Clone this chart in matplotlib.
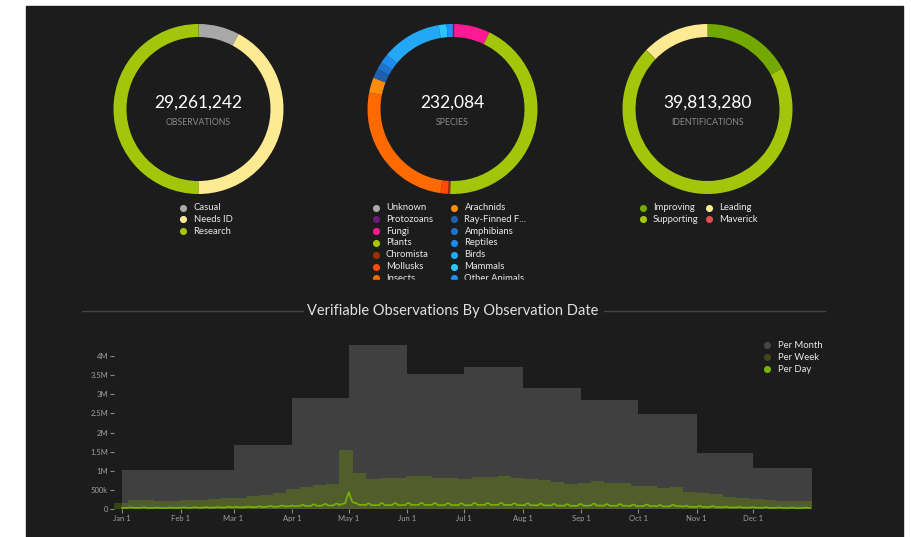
import matplotlib
matplotlib.use("Agg")
import matplotlib.pyplot as plt
from matplotlib.patches import Rectangle

plt.rcParams['font.family'] = ['Lato', 'DejaVu Sans']

# donut data
obs_labels = ['Casual', 'Needs ID', 'Research']
obs_values = [2290000, 12350000, 14621242]
obs_colors = ['#a8a8a8', '#fdea93', '#a4c60a']

species_labels = ['Unknown', 'Protozoans', 'Fungi', 'Plants', 'Chromista', 'Mollusks', 'Insects',
                  'Arachnids', 'Ray-Finned F...', 'Amphibians', 'Reptiles', 'Birds', 'Mammals', 'Other Animals']
species_values = [200, 600, 15800, 100500, 900, 3300, 60000, 6700, 4200, 3200, 4100, 26500, 3500, 2584]
species_colors = ['#a8a8a8', '#6a1b7a', '#ff1a93', '#a4c60a', '#9a3300', '#ff4a0a', '#ff6a00',
                  '#ff8c0a', '#1e5fae', '#1e74cc', '#1e8af0', '#22a8f5', '#2ac6ff', '#1e90ff']

ident_labels = ['Improving', 'Supporting', 'Maverick', 'Leading']
ident_values = [6800000, 27900000, 13280, 5100000]
ident_colors = ['#73a800', '#a4c60a', '#e05050', '#fdea93']
ident_legend_order = ['Improving', 'Leading', 'Supporting', 'Maverick']

totals = ['29,261,242', '232,084', '39,813,280']
captions = ['OBSERVATIONS', 'SPECIES', 'IDENTIFICATIONS']

# histogram data
month_starts = [0, 31, 59, 90, 120, 151, 181, 212, 243, 273, 304, 334, 365]
month_names = ['Jan 1', 'Feb 1', 'Mar 1', 'Apr 1', 'May 1', 'Jun 1', 'Jul 1', 'Aug 1',
               'Sep 1', 'Oct 1', 'Nov 1', 'Dec 1']
per_month = [1.02e6, 1.02e6, 1.68e6, 2.91e6, 4.29e6, 3.52e6, 3.72e6, 3.17e6, 2.85e6, 2.48e6, 1.46e6, 1.08e6]

week_starts = list(range(-4, 365, 7))
per_week = [0.15, 0.235, 0.24, 0.20, 0.20, 0.24, 0.24, 0.25, 0.29, 0.30, 0.35, 0.37, 0.43, 0.52,
            0.58, 0.63, 0.65, 1.53, 0.94, 0.78, 0.81, 0.81, 0.85, 0.85, 0.82, 0.82, 0.79, 0.84,
            0.84, 0.85, 0.80, 0.78, 0.75, 0.70, 0.66, 0.69, 0.73, 0.67, 0.67, 0.61, 0.61, 0.54,
            0.58, 0.45, 0.42, 0.39, 0.32, 0.29, 0.26, 0.24, 0.22, 0.20, 0.20]

# per day, thousands
per_day_k = (
    [28, 29, 30, 31, 40, 42, 30, 29, 30, 30, 31, 41, 43, 29, 27, 27, 28, 28, 36, 37, 27, 26, 27, 27, 28, 36, 37, 27, 30, 31, 32]
    + [32, 42, 44, 31, 32, 32, 33, 43, 45, 33, 34, 34, 35, 45, 47, 35, 36, 37, 38, 50, 52, 38, 39, 40, 41, 54, 56, 42]
    + [43, 57, 59, 44, 45, 46, 47, 60, 63, 48, 49, 50, 51, 66, 69, 52, 54, 55, 57, 74, 78, 58, 60, 62, 64, 86, 90, 66, 68, 70, 72]
    + [95, 72, 74, 76, 78, 105, 110, 78, 80, 82, 84, 118, 122, 84, 86, 88, 90, 128, 132, 90, 92, 94, 96, 135, 140, 100, 130, 135, 150, 300]
    + [440, 290, 180, 160, 155, 115, 110, 110, 110, 100, 140, 145, 100, 98, 98, 100, 102, 150, 152, 100, 102, 102, 102, 102, 148, 150, 102, 102, 103, 103, 108]
    + [155, 158, 106, 108, 108, 107, 108, 155, 158, 107, 107, 107, 108, 104, 150, 152, 103, 103, 104, 104, 104, 150, 152, 103, 103, 104, 104, 100, 146, 148]
    + [99, 99, 99, 99, 106, 152, 155, 106, 107, 107, 107, 106, 152, 155, 106, 107, 107, 107, 108, 155, 158, 107, 107, 107, 108, 101, 145, 148, 101, 101, 102]
    + [102, 99, 142, 145, 98, 98, 99, 99, 95, 137, 140, 94, 94, 95, 95, 88, 128, 131, 88, 88, 88, 89, 83, 121, 124, 83, 83, 83, 83, 87, 126]
    + [129, 87, 87, 87, 87, 92, 134, 137, 91, 92, 92, 92, 84, 123, 126, 84, 84, 84, 85, 84, 123, 126, 84, 84, 84, 85, 77, 112, 115, 76]
    + [76, 77, 77, 77, 112, 115, 76, 76, 77, 77, 68, 99, 102, 68, 68, 68, 67, 73, 106, 109, 72, 73, 73, 74, 57, 82, 85, 56, 56, 57, 57]
    + [53, 77, 80, 52, 53, 53, 52, 49, 71, 74, 49, 49, 49, 49, 40, 58, 61, 40, 40, 40, 41, 37, 53, 55, 36, 36, 36, 37, 33, 47]
    + [49, 33, 33, 33, 32, 30, 44, 46, 30, 30, 30, 30, 28, 40, 42, 28, 28, 28, 26, 25, 37, 38, 25, 25, 25, 25, 25, 36, 38, 25, 25]
)

BG = '#1c1c1c'
W, H = 911, 537
fig = plt.figure(figsize=(W / 100, H / 100), dpi=100, facecolor='white')

# dark panel
fig.patches.append(Rectangle((26 / W, 0), (903 - 26) / W, (H - 6) / H,
                             transform=fig.transFigure, color=BG, zorder=-10))


def px_axes(left, top, width, height):
    return fig.add_axes([left / W, (H - top - height) / H, width / W, height / H])


# donuts
centers = [198.5, 452.5, 707.5]
cy = 109
donuts = [(obs_values, obs_colors), (species_values, species_colors), (ident_values, ident_colors)]
for cx, (vals, cols), tot, cap in zip(centers, donuts, totals, captions):
    ax = px_axes(cx - 90, cy - 90, 180, 180)
    ax.pie(vals, colors=cols, startangle=90, counterclock=False, radius=85,
           wedgeprops=dict(width=13, linewidth=0))
    ax.set_xlim(-90, 90)
    ax.set_ylim(-90, 90)
    ax.axis('off')
    ax.text(0, 6, tot, ha='center', va='center', color='white', fontsize=12.5)
    ax.text(0, -13.5, cap, ha='center', va='center', color='#8a8a8a', fontsize=6.3)

# overlay in pixel coords for legends and title
ov = fig.add_axes([0, 0, 1, 1])
ov.set_xlim(0, W)
ov.set_ylim(H, 0)
ov.axis('off')


def legend_item(x, y, label, color):
    ov.scatter([x], [y], s=26, color=color, linewidths=0)
    ov.text(x + 10.5, y, label, color='#e8e8e8', fontsize=6.8, va='center', ha='left')


for i, (lab, col) in enumerate(zip(obs_labels, obs_colors)):
    legend_item(183, 207.5 + i * 11.8, lab, col)

for i, (lab, col) in enumerate(zip(species_labels, species_colors)):
    colnum, row = divmod(i, 7)
    legend_item(375.5 + colnum * 78.5, 207.5 + row * 11.8, lab, col)
# scrolled-off part of the species legend
ov.add_patch(Rectangle((360, 279.6), 190, 15, color=BG, zorder=5))

for i, lab in enumerate(ident_legend_order):
    row, colnum = divmod(i, 2)
    legend_item(642.5 + colnum * 66, 207.5 + row * 11.8, lab, ident_colors[ident_labels.index(lab)])

# section title
ov.text(453, 311, 'Verifiable Observations By Observation Date', color='#e0e0e0',
        fontsize=10.5, ha='center', va='center')
ov.plot([82, 303], [311, 311], color='#444444', lw=1)
ov.plot([604, 825], [311, 311], color='#444444', lw=1)

# bottom legend
hist_leg = [('Per Month', '#454545'), ('Per Week', '#3f4620'), ('Per Day', '#77b300')]
for i, (lab, col) in enumerate(hist_leg):
    legend_item(767, 345 + i * 12, lab, col)

# histogram axes: day -4 at x=114.4, day 365 at x=812; 0 at y=509, 4.5M at y=337
ax = px_axes(114.4, 509 - 172.1, 812 - 114.4, 172.1)
ax.set_facecolor('none')
ax.set_xlim(-4, 365)
ax.set_ylim(0, 4.5e6)

ax.fill_between(month_starts, per_month + [per_month[-1]], step='post', color='#404040', linewidth=0)
wk_edges = week_starts + [365]
wk_vals = [v * 1e6 for v in per_week]
ax.fill_between(wk_edges, wk_vals + [wk_vals[-1]], step='post', color='#7aa600', alpha=0.3, linewidth=0)
days = list(range(365))
ax.plot(days, [v * 1000 for v in per_day_k], color='#77b300', lw=1.2, solid_joinstyle='round')

for s in ax.spines.values():
    s.set_visible(False)
ax.set_yticks([0, 0.5e6, 1e6, 1.5e6, 2e6, 2.5e6, 3e6, 3.5e6, 4e6])
ax.set_yticklabels(['0', '500k', '1M', '1.5M', '2M', '2.5M', '3M', '3.5M', '4M'])
ax.set_xticks(month_starts[:-1])
ax.set_xticklabels(month_names)
ax.tick_params(axis='y', colors='#8a8a8a', labelcolor='#a0a0a0', labelsize=5.5, length=3, width=0.8, pad=1.5)
ax.tick_params(axis='x', colors='#8a8a8a', labelcolor='#a0a0a0', labelsize=5.5, length=3, width=0.8, pad=1.5)

fig.savefig('out.png', dpi=100, facecolor='white')
